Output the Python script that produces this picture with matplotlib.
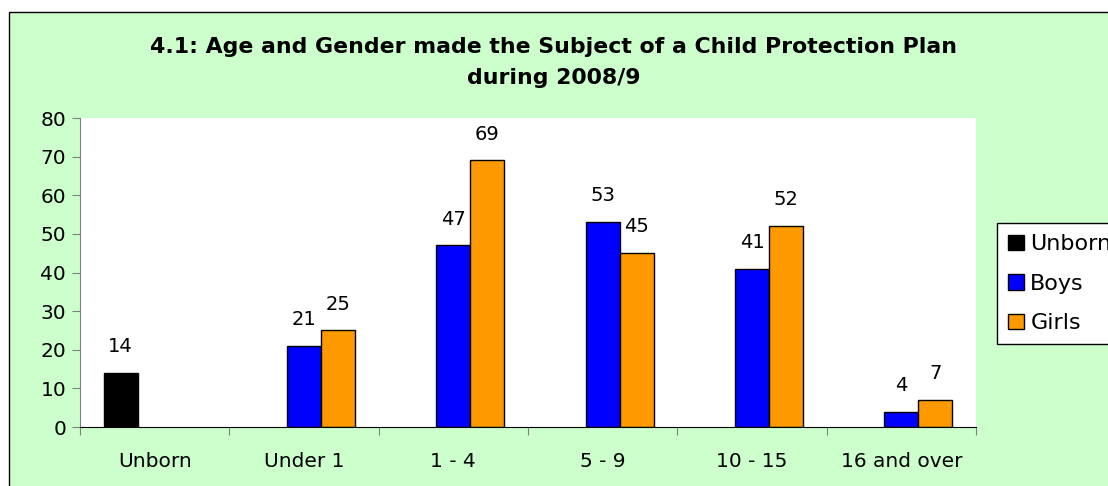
import numpy as np
import matplotlib.pyplot as plt
from matplotlib.patches import Rectangle

categories = ["Unborn", "Under 1", "1 - 4", "5 - 9", "10 - 15", "16 and over"]
unborn = [14, np.nan, np.nan, np.nan, np.nan, np.nan]
boys = [np.nan, 21, 47, 53, 41, 4]
girls = [np.nan, 25, 69, 45, 52, 7]

plt.rcParams['font.family'] = ['DejaVu Sans']

fig = plt.figure(figsize=(11.08, 4.86), dpi=100)
fig.patch.set_facecolor("white")
# green chart area with a thin border
fig.patches.append(Rectangle((9 / 1108, -0.01), 1.1, 1 - 12 / 486 + 0.01, transform=fig.transFigure,
                             facecolor="#CCFFCC", edgecolor="black", linewidth=1, zorder=-10))

ax = fig.add_axes([80 / 1108, 1 - 427 / 486, 896 / 1108, 309 / 486])
ax.set_facecolor("white")

x = np.arange(len(categories))
w = 0.228
series = [("Unborn", unborn, "black"), ("Boys", boys, "#0000FF"), ("Girls", girls, "#FF9900")]
for i, (name, vals, col) in enumerate(series):
    pos = x + (i - 1) * w
    ax.bar(pos, vals, width=w, color=col, edgecolor="black", linewidth=1, label=name)
    for p, v in zip(pos, vals):
        if not np.isnan(v):
            ax.annotate(f"{v:g}", (p, v), xytext=(0, 19), textcoords="offset points",
                        ha="center", va="center", fontsize=14)

ax.set_xlim(-0.5, len(categories) - 0.5)
ax.set_ylim(0, 80)
ax.set_yticks(np.arange(0, 81, 10))
ax.set_xticks(np.arange(-0.5, len(categories), 1.0))
ax.set_xticklabels([])
ax.set_xticks(x, minor=True)
ax.set_xticklabels(categories, minor=True, fontsize=14.5)
ax.tick_params(axis="x", which="minor", length=0, pad=18)
ax.tick_params(axis="x", which="major", length=6, color="#808080")
ax.tick_params(axis="y", length=6, labelsize=14.5, color="#808080", pad=4)
for s in ["top", "right"]:
    ax.spines[s].set_visible(False)
ax.spines["left"].set_color("#808080")
ax.spines["bottom"].set_color("black")

fig.text(0.5, 1 - 47 / 486, "4.1: Age and Gender made the Subject of a Child Protection Plan",
         ha="center", va="center", fontsize=15.8, fontweight="bold")
fig.text(0.5, 1 - 78 / 486, "during 2008/9", ha="center", va="center", fontsize=15.8, fontweight="bold")

# legend runs past the right edge, as in the original
leg = fig.legend(loc="upper left", bbox_to_anchor=(997 / 1108, 1 - 223 / 486), fontsize=16,
                 frameon=True, fancybox=False, edgecolor="black", framealpha=1,
                 handlelength=0.7, handleheight=0.7, handletextpad=0.3, labelspacing=0.88,
                 borderaxespad=0, borderpad=0.5)
leg.get_frame().set_linewidth(1)

fig.savefig("out.png", dpi=100)
